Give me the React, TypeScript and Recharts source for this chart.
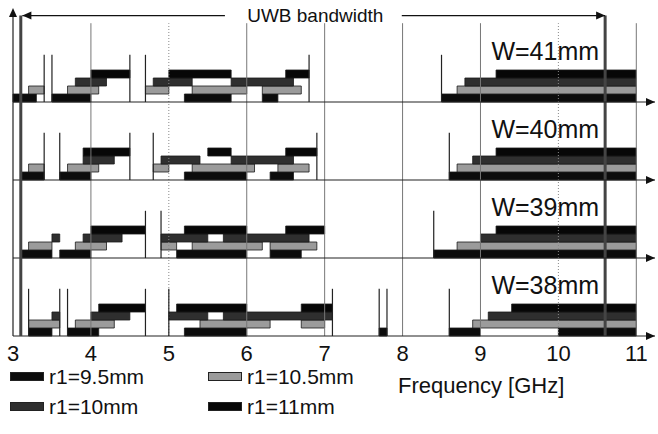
import { ComposedChart, XAxis, YAxis, ReferenceArea, ReferenceLine, ReferenceDot } from 'recharts'

const FONT = '"Liberation Sans", Arial, sans-serif'

const X_TICKS = [3, 4, 5, 6, 7, 8, 9, 10, 11]
const X_MAX = 11.24
const Y_MAX = 41

const PANEL_LABELS = ['W=41mm', 'W=40mm', 'W=39mm', 'W=38mm']
const PANEL_BASES = [29.25, 19.5, 9.75, 0]

// rows from bottom to top inside one panel
const SERIES = [
  { name: 'r1=9.5mm', fill: '#0c0c0c' },
  { name: 'r1=10.5mm', fill: '#9b9b9b' },
  { name: 'r1=10mm', fill: '#2f2f2f' },
  { name: 'r1=11mm', fill: '#070707' },
]

// bands [start GHz, end GHz], per panel and per r1
const W41_R95 = [[3.0, 3.3], [3.5, 4.0], [5.2, 5.8], [6.2, 6.4], [8.5, 11]]
const W41_R105 = [[3.2, 3.4], [3.7, 4.1], [4.7, 5.0], [5.3, 6.0], [6.2, 6.7], [8.7, 11]]
const W41_R10 = [[3.8, 4.2], [4.8, 5.3], [5.8, 6.6], [8.8, 11]]
const W41_R11 = [[4.0, 4.5], [5.0, 5.8], [6.5, 6.8], [9.2, 11]]

const W40_R95 = [[3.1, 3.4], [3.6, 4.0], [5.2, 6.0], [6.3, 6.6], [8.6, 11]]
const W40_R105 = [[3.2, 3.4], [3.7, 4.1], [4.8, 5.0], [5.3, 6.1], [6.4, 6.8], [8.7, 11]]
const W40_R10 = [[3.9, 4.3], [4.9, 5.4], [5.8, 6.6], [8.9, 11]]
const W40_R11 = [[3.9, 4.5], [5.5, 5.8], [6.5, 6.9], [9.2, 11]]

const W39_R95 = [[3.1, 3.5], [3.6, 4.0], [5.1, 6.0], [6.3, 6.7], [8.4, 11]]
const W39_R105 = [[3.2, 3.5], [3.8, 4.2], [4.9, 5.1], [5.3, 6.2], [6.3, 6.9], [8.7, 11]]
const W39_R10 = [[3.5, 3.6], [3.9, 4.4], [4.9, 5.5], [5.7, 6.8], [9.0, 11]]
const W39_R11 = [[4.0, 4.7], [5.2, 6.0], [6.5, 7.0], [9.2, 11]]

const W38_R95 = [[3.2, 3.5], [3.7, 4.1], [5.2, 6.0], [7.7, 7.8], [8.6, 9.0], [10.0, 11]]
const W38_R105 = [[3.2, 3.6], [3.8, 4.3], [5.4, 6.3], [6.7, 7.0], [8.9, 11]]
const W38_R10 = [[3.5, 3.6], [4.0, 4.5], [5.0, 5.5], [5.7, 7.1], [9.1, 11]]
const W38_R11 = [[4.1, 4.7], [5.1, 6.0], [6.7, 7.1], [9.4, 11]]

const BANDS = [
  [W41_R95, W41_R105, W41_R10, W41_R11],
  [W40_R95, W40_R105, W40_R10, W40_R11],
  [W39_R95, W39_R105, W39_R10, W39_R11],
  [W38_R95, W38_R105, W38_R10, W38_R11],
]

// thin resonance marks at band edges
const W41_MARKS = [3.4, 3.5, 4.5, 4.7, 6.8, 8.5]
const W40_MARKS = [3.4, 3.6, 4.5, 4.8, 6.9, 8.6]
const W39_MARKS = [4.7, 4.9, 8.4]
const W38_MARKS = [3.2, 3.6, 3.7, 4.7, 5.0, 7.1, 7.7, 7.8, 8.6]
const MARKS = [W41_MARKS, W40_MARKS, W39_MARKS, W38_MARKS]

const GRID_SOLID = [4, 6, 7, 8, 9, 11]
const GRID_DOTTED = [5, 10]
const UWB = [3.1, 10.6]

const chartData = X_TICKS.map(x => ({ x }))

const arrowRight = (p: any) => (
  <path d={`M${p.cx},${p.cy} l-9,-4 l0,8 z`} fill="#111" />
)
const arrowLeft = (p: any) => (
  <path d={`M${p.cx},${p.cy} l9,-4 l0,8 z`} fill="#111" />
)
const arrowUp = (p: any) => (
  <path d={`M${p.cx},${p.cy} l-4,9 l8,0 z`} fill="#111" />
)
const textShape = (label: string, size: number, anchor: string) => (p: any) => (
  <text x={p.cx} y={p.cy} fontSize={size} fontFamily={FONT} fill="#111" textAnchor={anchor}>
    {label}
  </text>
)

export default function App() {
  return (
    <div style={{ position: 'absolute', left: 0, top: 0, width: 658, height: 434, background: '#fff' }}>
      <ComposedChart
        width={658}
        height={434}
        data={chartData}
        margin={{ top: 8, right: 3, bottom: 68, left: 13 }}
      >
        <XAxis
          dataKey="x"
          type="number"
          domain={[3, X_MAX]}
          ticks={X_TICKS}
          interval={0}
          allowDataOverflow
          axisLine={false}
          tickLine={false}
          tickMargin={3}
          height={30}
          tick={{ fontSize: 22, fill: '#111', fontFamily: FONT }}
        />
        <YAxis type="number" domain={[0, Y_MAX]} allowDataOverflow hide />

        {/* vertical grid */}
        {GRID_SOLID.map(f => (
          <ReferenceLine key={`g${f}`} segment={[{ x: f, y: 0 }, { x: f, y: 39.1 }]} stroke="#777" strokeWidth={1} ifOverflow="visible" />
        ))}
        {GRID_DOTTED.map(f => (
          <ReferenceLine key={`d${f}`} segment={[{ x: f, y: 0 }, { x: f, y: 39.1 }]} stroke="#888" strokeDasharray="1 2" strokeWidth={1} ifOverflow="visible" />
        ))}

        {/* upper UWB edge sits behind the bars */}
        <ReferenceLine segment={[{ x: UWB[1], y: 0 }, { x: UWB[1], y: 40.05 }]} stroke="#444" strokeWidth={3} ifOverflow="visible" />

        {BANDS.map((panel, p) =>
          panel.map((bands, row) =>
            bands.map(([a, b], k) => (
              <ReferenceArea
                key={`b${p}-${row}-${k}`}
                x1={a}
                x2={b}
                y1={PANEL_BASES[p] + row}
                y2={PANEL_BASES[p] + row + 1}
                fill={SERIES[row].fill}
                fillOpacity={1}
                stroke="#1a1a1a"
                strokeWidth={0.8}
                ifOverflow="visible"
              />
            ))
          )
        )}

        {MARKS.map((marks, p) =>
          marks.map(f => (
            <ReferenceLine
              key={`m${p}-${f}`}
              segment={[{ x: f, y: PANEL_BASES[p] }, { x: f, y: PANEL_BASES[p] + 5.9 }]}
              stroke="#222"
              strokeWidth={1.2}
              ifOverflow="visible"
            />
          ))
        )}

        {/* panel axes */}
        {PANEL_BASES.map((base, p) => (
          <ReferenceLine key={`a${p}`} y={base} stroke="#222" strokeWidth={1.2} ifOverflow="visible" />
        ))}
        {PANEL_BASES.map((base, p) => (
          <ReferenceDot key={`ar${p}`} x={X_MAX} y={base} r={0} shape={arrowRight} ifOverflow="visible" />
        ))}
        {PANEL_LABELS.map((label, p) => (
          <ReferenceDot
            key={`l${p}`}
            x={9.14}
            y={PANEL_BASES[p] + 5.25}
            r={0}
            shape={textShape(label, 25, 'start')}
            ifOverflow="visible"
          />
        ))}

        <ReferenceLine segment={[{ x: 3, y: 0 }, { x: 3, y: Y_MAX - 0.5 }]} stroke="#222" strokeWidth={1.2} ifOverflow="visible" />
        <ReferenceDot x={3} y={Y_MAX} r={0} shape={arrowUp} ifOverflow="visible" />

        {/* lower UWB edge */}
        <ReferenceLine segment={[{ x: UWB[0], y: 0 }, { x: UWB[0], y: 40.05 }]} stroke="#444" strokeWidth={3} ifOverflow="visible" />

        {/* UWB bandwidth arrow */}
        <ReferenceLine segment={[{ x: UWB[0] + 0.02, y: 40.05 }, { x: 5.72, y: 40.05 }]} stroke="#111" strokeWidth={1.2} ifOverflow="visible" />
        <ReferenceLine segment={[{ x: 7.99, y: 40.05 }, { x: UWB[1], y: 40.05 }]} stroke="#111" strokeWidth={1.2} ifOverflow="visible" />
        <ReferenceDot x={UWB[0] + 0.02} y={40.05} r={0} shape={arrowLeft} ifOverflow="visible" />
        <ReferenceDot x={UWB[1]} y={40.05} r={0} shape={arrowRight} ifOverflow="visible" />
        <ReferenceDot x={6.88} y={39.2} r={0} shape={textShape('UWB bandwidth', 19, 'middle')} ifOverflow="visible" />
      </ComposedChart>

      {/* legend: 9.5 / 10.5 on the first line, 10 / 11 on the second */}
      <div style={{ position: 'absolute', left: 0, top: 0, width: 658, height: 434, fontFamily: FONT, color: '#111', pointerEvents: 'none' }}>
        {SERIES.map((s, i) => {
          const col = i % 2
          const line = Math.floor(i / 2)
          return (
            <div
              key={s.name}
              style={{ position: 'absolute', left: 10 + col * 198, top: 366 + line * 30, height: 21, lineHeight: '21px', display: 'flex', alignItems: 'center' }}
            >
              <span style={{ display: 'inline-block', width: 32, height: 7, background: s.fill, border: '1px solid #222', marginRight: 5 }} />
              <span style={{ fontSize: 21 }}>{s.name}</span>
            </div>
          )
        })}
        <div style={{ position: 'absolute', left: 398, top: 375, fontSize: 22, lineHeight: '22px' }}>Frequency [GHz]</div>
      </div>
    </div>
  )
}
